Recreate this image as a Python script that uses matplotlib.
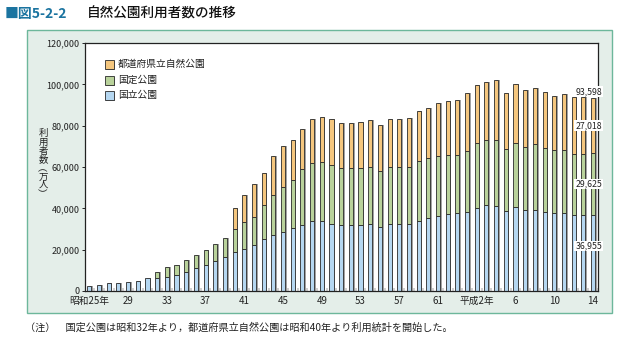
import matplotlib
matplotlib.use("Agg")
import matplotlib.pyplot as plt
from matplotlib.patches import Rectangle
import numpy as np

plt.rcParams['font.family'] = ['Noto Sans CJK JP', 'DejaVu Sans']

# ---- data (万人) ----
years = list(range(1950, 2003))
kokuritsu = [2400, 2900, 3700, 4000, 4200, 4800, 6100,
             6300, 6900, 7600, 9000, 11000, 12600, 14500, 16400,
             18800, 20300, 22100, 25100, 27100, 28500, 30400, 31900, 33800, 33800, 32500,
             31900, 31700, 31900, 32200, 31200, 32200, 32200, 32200, 34100, 35100, 36100, 37200, 37700,
             38300, 40400, 41400, 41200, 38700, 40600, 39000, 39000, 38300, 37700, 37900, 36700, 36700, 36955]
kokutei = [0, 0, 0, 0, 0, 0, 0,
           2700, 4500, 5000, 5800, 6200, 7200, 8200, 9400,
           11300, 12900, 13500, 16300, 19400, 21800, 23100, 26900, 28000, 28400, 28400,
           27700, 27700, 27500, 27700, 27100, 28000, 27700, 27900, 29000, 29200, 29300, 28400, 28300,
           29500, 31000, 31600, 32100, 30100, 31200, 30900, 31900, 30800, 30600, 30100, 29800, 29800, 29625]
todofuken = [0, 0, 0, 0, 0, 0, 0,
             0, 0, 0, 0, 0, 0, 0, 0,
             9900, 13200, 16400, 15900, 18700, 20100, 19800, 19500, 21300, 22200, 22100,
             21900, 22100, 22600, 22700, 21800, 23200, 23100, 23700, 24200, 24400, 25600, 26200, 26300,
             27900, 28500, 28300, 28700, 27000, 28400, 27200, 27500, 27100, 26200, 27500, 27400, 27200, 27018]
tick_idx = [0, 4, 8, 12, 16, 20, 24, 28, 32, 36, 40, 44, 48, 52]
tick_labels = ['昭和25年', '29', '33', '37', '41', '45', '49', '53', '57', '61',
               '平成2年', '6', '10', '14']
series_names = ['都道府県立自然公園', '国定公園', '国立公園']
last_labels = ['93,598', '27,018', '29,625', '36,955']

c_blue = '#b5d7f1'
c_green = '#b9d29b'
c_orange = '#f4c67e'
c_edge = '#2a2a2a'
c_shadow = '#a3a3a3'

W, H = 624, 343
fig = plt.figure(figsize=(W / 100, H / 100), dpi=100)
fig.patch.set_facecolor('white')

# panel background
panel = Rectangle((27 / W, 1 - 313 / H), (612 - 27) / W, (313 - 30) / H,
                  transform=fig.transFigure, facecolor='#e4eee9',
                  edgecolor='#6db79b', lw=1.0, zorder=-10)
fig.patches.append(panel)

ax = fig.add_axes([85 / W, 1 - 291 / H, (598 - 85) / W, (291 - 43) / H])
ax.set_zorder(5)
ax.set_facecolor('white')

x = np.arange(len(years))
b = np.array(kokuritsu, dtype=float)
g = np.array(kokutei, dtype=float)
o = np.array(todofuken, dtype=float)
tot = b + g + o
bw = 0.42

# shadows
ax.bar(x + 0.17, tot, width=bw, color=c_shadow, edgecolor='none', zorder=1)
ax.bar(x, b, width=bw, color=c_blue, edgecolor=c_edge, linewidth=0.6, zorder=2)
gm = g > 0
ax.bar(x[gm], g[gm], bottom=b[gm], width=bw, color=c_green, edgecolor=c_edge, linewidth=0.6, zorder=2)
om = o > 0
ax.bar(x[om], o[om], bottom=(b + g)[om], width=bw, color=c_orange, edgecolor=c_edge, linewidth=0.6, zorder=2)

ax.set_xlim(-0.45, len(years) - 0.48)
ax.set_ylim(0, 120000)
ax.set_yticks(np.arange(0, 120001, 20000))
ax.set_yticklabels([f'{v:,}' for v in range(0, 120001, 20000)], fontsize=6.5, color='#222')
ax.tick_params(axis='y', direction='out', length=2.5, width=0.7, pad=1.5, colors='#222')
ax.set_xticks(tick_idx)
ax.set_xticklabels(tick_labels, fontsize=7, color='#222')
ax.tick_params(axis='x', length=0, pad=3.5)
ax.set_xticks(x + 0.5, minor=True)
ax.tick_params(axis='x', which='minor', direction='in', length=2, width=1.2, color='#c8c8c8')
for s in ax.spines.values():
    s.set_color('#222')
    s.set_linewidth(0.9)

# labels for last bar
lx = len(years) - 1.45
ypos = [tot[-1] + 3000, b[-1] + g[-1] + o[-1] / 2, b[-1] + g[-1] / 2, b[-1] * 0.59]
for txt, yy in zip(last_labels, ypos):
    ax.text(lx, yy, txt, fontsize=6.3, ha='center', va='center', color='#222', zorder=5,
            bbox=dict(boxstyle='square,pad=0.1', facecolor='white', edgecolor='none'))

# legend (manual)
leg_cols = [c_orange, c_green, c_blue]
leg_y = [64, 80, 95]
for name, col, yp in zip(series_names, leg_cols, leg_y):
    x0 = (105 - 85) / 513
    yc = (291 - yp) / 248
    w = 9 / 513
    h = 9 / 248
    ax.add_patch(Rectangle((x0 + 1.5 / 513, yc - h / 2 - 1.5 / 248), w, h, transform=ax.transAxes,
                           facecolor=c_shadow, edgecolor='none', zorder=4))
    ax.add_patch(Rectangle((x0, yc - h / 2), w, h, transform=ax.transAxes,
                           facecolor=col, edgecolor=c_edge, lw=0.6, zorder=5))
    ax.text((118 - 85) / 513, yc, name, transform=ax.transAxes, fontsize=7,
            va='center', ha='left', color='#222', zorder=5)

# y label (vertical, stacked characters)
fig.text(43 / W, 1 - 164 / H, '利\n用\n者\n数\n︵\n万\n人\n︶', fontsize=6.8, linespacing=0.95,
         ha='center', va='center', color='#222')

# title
fig.text(5 / W, 1 - 14 / H, '■図5-2-2', fontsize=10, fontweight='bold', color='#1b74a0',
         ha='left', va='center')
fig.text(87 / W, 1 - 14 / H, '自然公園利用者数の推移', fontsize=9.8, fontweight='medium',
         color='#111', ha='left', va='center')

# footnote
fig.text(25 / W, 1 - 328 / H,
         '（注）　国定公園は昭和32年より，都道府県立自然公園は昭和40年より利用統計を開始した。',
         fontsize=7.3, color='#222', ha='left', va='center')

fig.savefig('out.png', dpi=100, facecolor='white')
